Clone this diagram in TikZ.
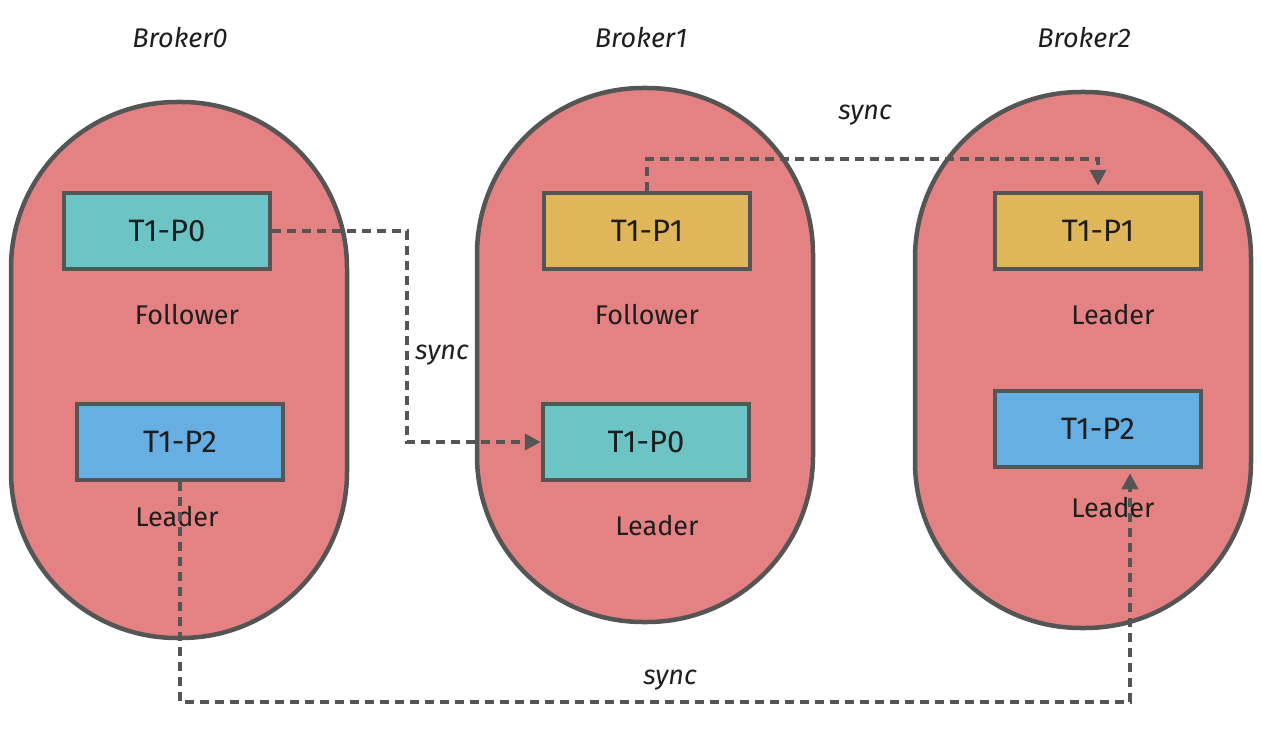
\documentclass[tikz,border=0pt]{standalone}
\usepackage{fontspec}
\setmainfont{Fira Sans}
\usetikzlibrary{arrows.meta}
\definecolor{capfill}{RGB}{228,130,131}
\definecolor{edge}{RGB}{85,85,85}
\definecolor{ink}{RGB}{30,30,30}
\definecolor{teal}{RGB}{108,196,196}
\definecolor{gold}{RGB}{223,182,90}
\definecolor{sky}{RGB}{103,174,226}
\begin{document}
\begin{tikzpicture}[x=1pt,y=-1pt,
  broker/.style={draw=edge, line width=4.5pt, fill=capfill, minimum width=336pt, minimum height=536pt, rounded corners=166pt, inner sep=0pt},
  part/.style={draw=edge, line width=4.5pt, minimum width=206pt, minimum height=76pt, font=\fontsize{31}{34}\selectfont, text=ink},
  lbl/.style={font=\fontsize{27}{30}\selectfont, text=ink, inner sep=1pt},
  title/.style={font=\fontsize{27}{30}\selectfont\itshape, text=ink},
  sync/.style={draw=edge, line width=4pt, dash pattern=on 9pt off 6pt, -{Triangle[length=16pt,width=16pt]}},
]
\useasboundingbox (0,0) rectangle (1261,733);
% brokers
\node[broker] (b0) at (179,370) {};
\node[broker, minimum height=534pt] (b1) at (645,355) {};
\node[broker] (b2) at (1083,360) {};
% titles
\node[title] (t0) at (180,38) {Broker0};
\node[title] (t1) at (641,38) {Broker1};
\node[title] (t2) at (1084,38) {Broker2};
% partitions
\node[part, fill=teal] (p00) at (167,231) {T1-P0};
\node[part, fill=sky]  (p02) at (180,442) {T1-P2};
\node[part, fill=gold] (p11) at (647,231) {T1-P1};
\node[part, fill=teal] (p10) at (646,442) {T1-P0};
\node[part, fill=gold] (p21) at (1098,231) {T1-P1};
\node[part, fill=sky]  (p22) at (1098,429) {T1-P2};
% role labels
\node[lbl] (r00) at (187,315) {Follower};
\node[lbl] (r02) at (177,517) {Leader};
\node[lbl] (r11) at (647,315) {Follower};
\node[lbl] (r10) at (657,526) {Leader};
\node[lbl] (r21) at (1113,315) {Leader};
\node[lbl] (r22) at (1113,508) {Leader};
% sync connectors
\draw[sync] (p00.east) -- ++(135,0) |- (p10.west);
\draw[sync, shorten >=5pt] (p11.north) -- ++(0,-32) -| (p21.north);
\draw[sync, shorten >=4pt] (p02.south) -- ++(0,220) -| ([xshift=32pt]p22.south);
% sync labels
\node[title] (s1) at (442,355) {sync};
\node[title] (s2) at (865,115) {sync};
\node[title] (s3) at (670,680) {sync};
\end{tikzpicture}
\end{document}
